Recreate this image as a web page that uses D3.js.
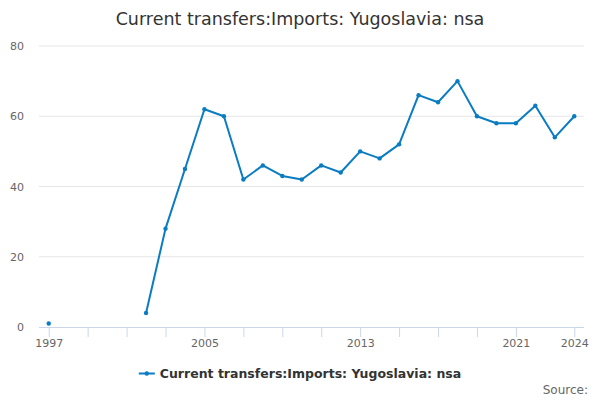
<!DOCTYPE html>
<html lang="en">
<head>
  <meta charset="UTF-8">
  <title>Current transfers:Imports: Yugoslavia: nsa</title>
  <script src="https://d3js.org/d3.v7.min.js"></script>
  <style>
    body { margin: 0; background: #fff; }
    svg { font-family: "DejaVu Sans", sans-serif; }
    .grid line { stroke: #e6e6e6; }
    .axis-label { fill: #666; font-size: 11px; }
  </style>
</head>
<body>
<svg id="chart"></svg>

<script>
  // Data (null = no value)
  var years = [1997, 1998, 1999, 2000, 2001, 2002, 2003, 2004, 2005, 2006, 2007, 2008, 2009, 2010,
               2011, 2012, 2013, 2014, 2015, 2016, 2017, 2018, 2019, 2020, 2021, 2022, 2023, 2024];
  var values = [1, null, null, null, null, 4, 28, 45, 62, 60, 42, 46, 43, 42,
                46, 44, 50, 48, 52, 66, 64, 70, 60, 58, 58, 63, 54, 60];
  var xTicks = [1997, 1999, 2001, 2003, 2005, 2007, 2009, 2011, 2013, 2015, 2017, 2019, 2021, 2024];
  var xLabels = [1997, 2005, 2013, 2021, 2024];
  var yTicks = [0, 20, 40, 60, 80];

  var seriesName = "Current transfers:Imports: Yugoslavia: nsa";
  var lineColor = "#0a7cc1";

  var svgWidth = 600, svgHeight = 400;
  var margin = { top: 46, right: 16, bottom: 73, left: 39 };
  var width = svgWidth - margin.left - margin.right;
  var height = svgHeight - margin.top - margin.bottom;

  var root = d3.select("#chart")
    .attr("width", svgWidth)
    .attr("height", svgHeight);

  // title
  root.append("text")
    .attr("x", svgWidth / 2)
    .attr("y", 25)
    .attr("text-anchor", "middle")
    .attr("font-size", "17.5px")
    .attr("fill", "#333")
    .text(seriesName);

  var svg = root.append("g")
    .attr("transform", "translate(" + margin.left + "," + margin.top + ")");

  var x = d3.scaleLinear()
    .domain([1996.5, 2024.5])
    .range([0, width]);

  var y = d3.scaleLinear()
    .domain([0, 80])
    .range([height, 0]);

  // gridlines
  svg.append("g")
    .attr("class", "grid")
    .selectAll("line")
    .data(yTicks.filter(function(d) { return d > 0; }))
    .enter().append("line")
    .attr("x1", 0)
    .attr("x2", width)
    .attr("y1", function(d) { return y(d); })
    .attr("y2", function(d) { return y(d); });

  // y axis labels
  var yAxis = svg.append("g")
    .call(d3.axisLeft(y).tickValues(yTicks).tickSize(0).tickPadding(15));
  yAxis.select(".domain").remove();
  yAxis.selectAll("text")
    .attr("class", "axis-label")
    .attr("font-family", "DejaVu Sans, sans-serif")
    .attr("font-size", "11px")
    .attr("fill", "#666");

  // x axis
  var xAxis = svg.append("g")
    .attr("transform", "translate(0," + height + ")")
    .call(d3.axisBottom(x)
      .tickValues(xTicks)
      .tickSize(10)
      .tickPadding(2)
      .tickSizeOuter(0)
      .tickFormat(function(d) { return xLabels.indexOf(d) >= 0 ? d : ""; }));
  xAxis.select(".domain")
    .attr("d", "M0,0.5H" + width)
    .attr("stroke", "#ccd6eb");
  xAxis.selectAll(".tick line").attr("stroke", "#ccd6eb");
  xAxis.selectAll("text")
    .attr("font-family", "DejaVu Sans, sans-serif")
    .attr("font-size", "11px")
    .attr("fill", "#666");

  var points = years.map(function(d, i) { return { year: d, value: values[i] }; });

  var line = d3.line()
    .defined(function(d) { return d.value !== null; })
    .x(function(d) { return x(d.year); })
    .y(function(d) { return y(d.value); });

  svg.append("path")
    .datum(points)
    .attr("fill", "none")
    .attr("stroke", lineColor)
    .attr("stroke-width", 2)
    .attr("stroke-linejoin", "round")
    .attr("d", line);

  svg.selectAll(".dot")
    .data(points.filter(function(d) { return d.value !== null; }))
    .enter().append("circle")
    .attr("class", "dot")
    .attr("cx", function(d) { return x(d.year); })
    .attr("cy", function(d) { return y(d.value); })
    .attr("r", 2.2)
    .attr("fill", lineColor);

  // legend
  var legend = root.append("g");
  var legendText = legend.append("text")
    .attr("x", 0)
    .attr("y", 0)
    .attr("font-size", "12.5px")
    .attr("font-weight", "bold")
    .attr("fill", "#333")
    .text(seriesName);
  var tw = legendText.node().getComputedTextLength();
  var total = 16 + 5 + tw;
  var lx = svgWidth / 2 - total / 2;
  legendText.attr("x", lx + 21).attr("y", 378);
  legend.append("line")
    .attr("x1", lx).attr("x2", lx + 16)
    .attr("y1", 373.5).attr("y2", 373.5)
    .attr("stroke", lineColor)
    .attr("stroke-width", 2);
  legend.append("circle")
    .attr("cx", lx + 8).attr("cy", 373.5).attr("r", 2.2)
    .attr("fill", lineColor);

  // credits
  root.append("text")
    .attr("x", 588)
    .attr("y", 394)
    .attr("text-anchor", "end")
    .attr("font-size", "12px")
    .attr("fill", "#666")
    .text("Source:");
</script>
</body>
</html>
